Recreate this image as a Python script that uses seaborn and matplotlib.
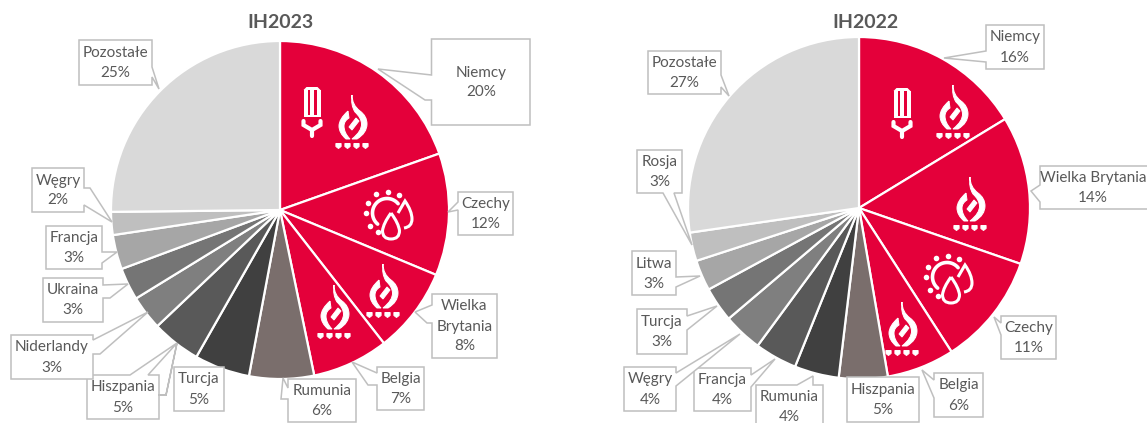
import numpy as np
import matplotlib
matplotlib.use("Agg")
import matplotlib.pyplot as plt
from matplotlib.patches import Polygon, PathPatch, Rectangle
from matplotlib.path import Path
import seaborn as sns

titles = ["IH2023", "IH2022"]
labels_2023 = ["Niemcy", "Czechy", "Wielka\nBrytania", "Belgia", "Rumunia", "Turcja", "Hiszpania",
               "Niderlandy", "Ukraina", "Francja", "Węgry", "Pozostałe"]
values_2023 = [19.6, 11.7, 8.2, 7.3, 6.2, 5.3, 4.7, 3.3, 3.1, 3.3, 2.2, 25.2]
labels_2022 = ["Niemcy", "Wielka Brytania", "Czechy", "Belgia", "Hiszpania", "Rumunia", "Francja",
               "Węgry", "Turcja", "Litwa", "Rosja", "Pozostałe"]
values_2022 = [16.3, 14.0, 10.6, 6.4, 4.6, 4.2, 4.0, 3.7, 3.3, 2.9, 2.7, 27.3]

RED = "#E4003A"
colors_2023 = [RED] * 4 + ["#7A6E6C", "#404040", "#595959", "#7F7F7F", "#757575", "#A6A6A6", "#BFBFBF", "#D9D9D9"]
colors_2022 = [RED] * 4 + ["#7A6E6C", "#404040", "#595959", "#7F7F7F", "#757575", "#A6A6A6", "#BFBFBF", "#D9D9D9"]

W, H = 1147, 423
sns.set_theme(style="white")
plt.rcParams["font.family"] = ["Lato", "DejaVu Sans"]
fig = plt.figure(figsize=(W / 100, H / 100), dpi=100, facecolor="white")


def pie(cx, cy, r, values, colors):
    ax = fig.add_axes([(cx - r) / W, 1 - (cy + r) / H, 2 * r / W, 2 * r / H])
    ax.pie(values, colors=sns.color_palette(colors), startangle=90, counterclock=False, radius=1,
           wedgeprops=dict(edgecolor="white", linewidth=1.6))
    ax.set_xlim(-1, 1)
    ax.set_ylim(-1, 1)
    ax.axis("off")
    for p in ax.patches:
        p.set_clip_on(False)


pie(280, 210, 169, values_2023, colors_2023)
pie(859, 208, 171, values_2022, colors_2022)

ov = fig.add_axes([0, 0, 1, 1], zorder=5)
ov.set_xlim(0, W)
ov.set_ylim(H, 0)
ov.axis("off")
ov.patch.set_alpha(0)

ov.text(280, 22, titles[0], ha="center", va="center", fontsize=14, fontweight="bold", color="#595959")
ov.text(865, 22, titles[1], ha="center", va="center", fontsize=14, fontweight="bold", color="#595959")

# callout boxes: x0, y0, x1, y1 and the pointer points on each side (clockwise from the top-left corner)
boxes_2023 = {
    "Niemcy": [431.5, 39, 530, 125, dict(left=[(431.5, 100), (425, 100), (378, 69), (431.5, 75), (431.5, 53)])],
    "Czechy": [458, 192, 513, 235, dict(left=[(458, 210), (448, 212), (458, 202)])],
    "Wielka\nBrytania": [432, 294, 497, 358, dict(left=[(432, 323), (427, 323), (415, 312), (432, 305)])],
    "Belgia": [377, 367, 424, 410, dict(left=[(377, 385), (368, 385), (352, 362), (377, 373)])],
    "Rumunia": [288, 379, 356, 422, dict(left=[(288, 399), (281, 399), (283, 378), (288, 388)])],
    "Turcja": [174, 367, 224, 411, dict()],
    "Hiszpania": [87, 375, 159, 419, dict(top=[(130, 375), (177, 343), (148, 375)],
                                          right=[(159, 395), (166, 395), (177, 343), (166, 395), (159, 395)])],
    "Niderlandy": [11, 335, 93, 379, dict(right=[(93, 340), (148, 312), (100, 354), (93, 354)])],
    "Ukraina": [43, 278, 103, 322, dict(right=[(103, 285), (128, 284), (110, 298), (103, 298)])],
    "Francja": [46, 226, 102, 269, dict(right=[(102, 252), (117, 252), (102, 263)])],
    "Węgry": [32, 168, 84, 212, dict(right=[(84, 188), (90, 188), (112, 222), (84, 205)])],
    "Pozostałe": [79, 40, 152, 85, dict(right=[(152, 67), (159, 89), (152, 77)])],
}
boxes_2022 = {
    "Niemcy": [986, 25, 1044, 69, dict(left=[(986, 62), (944, 58), (986, 51)])],
    "Wielka Brytania": [1040, 166, 1156, 209, dict(left=[(1040, 202), (1031, 191), (1040, 185)])],
    "Czechy": [1001, 316, 1056, 359, dict(left=[(1001, 335), (994, 317), (1001, 323)])],
    "Belgia": [934, 373, 983, 417, dict(left=[(934, 398), (922, 370), (934, 380)])],
    "Hiszpania": [847, 377, 919, 422, dict()],
    "Rumunia": [756, 385, 823, 428, dict(top=[(797, 385), (813, 376), (813, 385)])],
    "Francja": [694, 368, 751, 411, dict(right=[(751, 375), (775, 359), (751, 387)])],
    "Węgry": [624, 367, 676, 411, dict(right=[(676, 373), (740, 334), (676, 386)])],
    "Turcja": [637, 309, 687, 354, dict(right=[(687, 316), (717, 306), (687, 330)])],
    "Litwa": [632, 251, 676, 295, dict(right=[(676, 277), (700, 276), (676, 287)])],
    "Rosja": [637, 150, 682, 193, dict(bottom=[(674, 193), (692, 245), (663, 193)])],
    "Pozostałe": [648, 51, 721, 94, dict(right=[(721, 75), (729, 96), (721, 87)])],
}


def box(label, value, spec, cx=None):
    x0, y0, x1, y1, s = spec
    pts = ([(x0, y0)] + s.get("top", []) + [(x1, y0)] + s.get("right", []) + [(x1, y1)]
           + s.get("bottom", []) + [(x0, y1)] + s.get("left", []))
    ov.add_patch(Polygon(pts, closed=True, facecolor="white", edgecolor="#BFBFBF", linewidth=1.1, clip_on=True,
                         joinstyle="miter"))
    lines = label.split("\n") + [f"{value:.0f}%"]
    yc = (y0 + y1) / 2 + 0.5
    xc = cx if cx is not None else (x0 + x1) / 2
    for i, line in enumerate(lines):
        ov.text(xc, yc + (i - (len(lines) - 1) / 2) * 20, line, ha="center", va="center",
                fontsize=11, color="#595959")


for lab, val in zip(labels_2023, values_2023):
    box(lab, val, boxes_2023[lab])
for lab, val in zip(labels_2022, values_2022):
    box(lab, val, boxes_2022[lab], cx=1093 if lab == "Wielka Brytania" else None)


def curve(verts, codes, **kw):
    ov.add_patch(PathPatch(Path(verts, codes), **kw))


C3 = Path.CURVE3
M, L = Path.MOVETO, Path.LINETO


def flame(x, y):
    def sh(p):
        return [(x + a, y + b) for a, b in p]
    ink = dict(facecolor="white", edgecolor="white", linewidth=0.7)
    curve(sh([(0, 0), (0, 10), (8, 16), (15, 21), (15, 29), (15, 38), (5, 44), (0, 44), (10, 36), (9.5, 29),
              (9.5, 23), (3, 17), (-1.5, 10), (0, 0)]),
          [M, C3, C3, C3, C3, C3, C3, L, C3, C3, C3, C3, C3, L], **ink)
    curve(sh([(-4, 16), (-13, 24), (-13, 31), (-13, 38), (-6, 44), (-2, 44), (-8, 38), (-8, 31), (-8, 26),
              (-3, 23), (-4, 16)]),
          [M, C3, C3, C3, C3, L, C3, C3, C3, C3, L], **ink)
    ov.add_patch(Polygon(sh([(4, 23), (7, 26), (0, 35), (-3, 32)]), closed=True, **ink))
    for dx in (-13.5, -4.5, 4.5, 13.5):
        ov.add_patch(Polygon(sh([(dx - 2.6, 48.5), (dx + 2.6, 48.5), (dx + 2.6, 51.5), (dx, 53.5), (dx - 2.6, 51.5)]),
                             closed=True, **ink))


def lamp(x, y):
    ov.add_patch(Rectangle((x - 8.5, y + 3), 17, 27, facecolor="white", edgecolor="none"))
    ov.add_patch(Polygon([(x - 8.5, y + 3), (x - 5.5, y), (x + 5.5, y), (x + 8.5, y + 3)],
                         facecolor="white", edgecolor="none"))
    for sx in (-4.5, 1.6):
        ov.add_patch(Rectangle((x + sx, y + 3), 2.9, 25, facecolor=RED, edgecolor="none"))
    ov.plot([x - 8.5, x - 8.5, x, x + 8.5, x + 8.5], [y + 34, y + 38, y + 43, y + 38, y + 34],
            color="white", lw=3, solid_joinstyle="miter")
    ov.plot([x, x], [y + 43, y + 49], color="white", lw=3)


def sun(x, y):
    t = np.radians(np.linspace(40, 230, 60))
    ov.plot(x + 14.5 * np.cos(t), y - 14.5 * np.sin(t), color="white", lw=2.6)
    for a in (56, 87, 120, 153, 180, 216, 244):
        ov.plot(x + 21.5 * np.cos(np.radians(a)), y - 21.5 * np.sin(np.radians(a)), "o", color="white", ms=4, mew=0)
    # rear drop, open outline
    curve([(x + 11, y + 0), (x + 18, y - 12), (x + 18, y - 12), (x + 25, y - 2), (x + 25, y + 6),
           (x + 25, y + 14), (x + 17, y + 15)],
          [M, L, L, C3, C3, C3, C3], facecolor="none", edgecolor="white", linewidth=2.2)
    # front drop
    dx, dy, w, h = x + 4, y + 0, 8.5, 26
    curve([(dx, dy), (dx + w * 0.9, dy + h * 0.4), (dx + w, dy + h * 0.68), (dx + w, dy + h), (dx, dy + h),
           (dx - w, dy + h), (dx - w, dy + h * 0.68), (dx - w * 0.9, dy + h * 0.4), (dx, dy)],
          [M, C3, C3, C3, C3, C3, C3, C3, C3], facecolor=RED, edgecolor="white", linewidth=2.2)


lamp(312, 87)
flame(352, 95)
sun(387, 213)
flame(383, 264)
flame(334, 285)
lamp(902, 88)
flame(953, 85)
flame(970, 177)
sun(947, 277)
flame(902, 302)

ov.set_xlim(0, W)
ov.set_ylim(H, 0)
fig.savefig("out.png", dpi=100, facecolor="white")
